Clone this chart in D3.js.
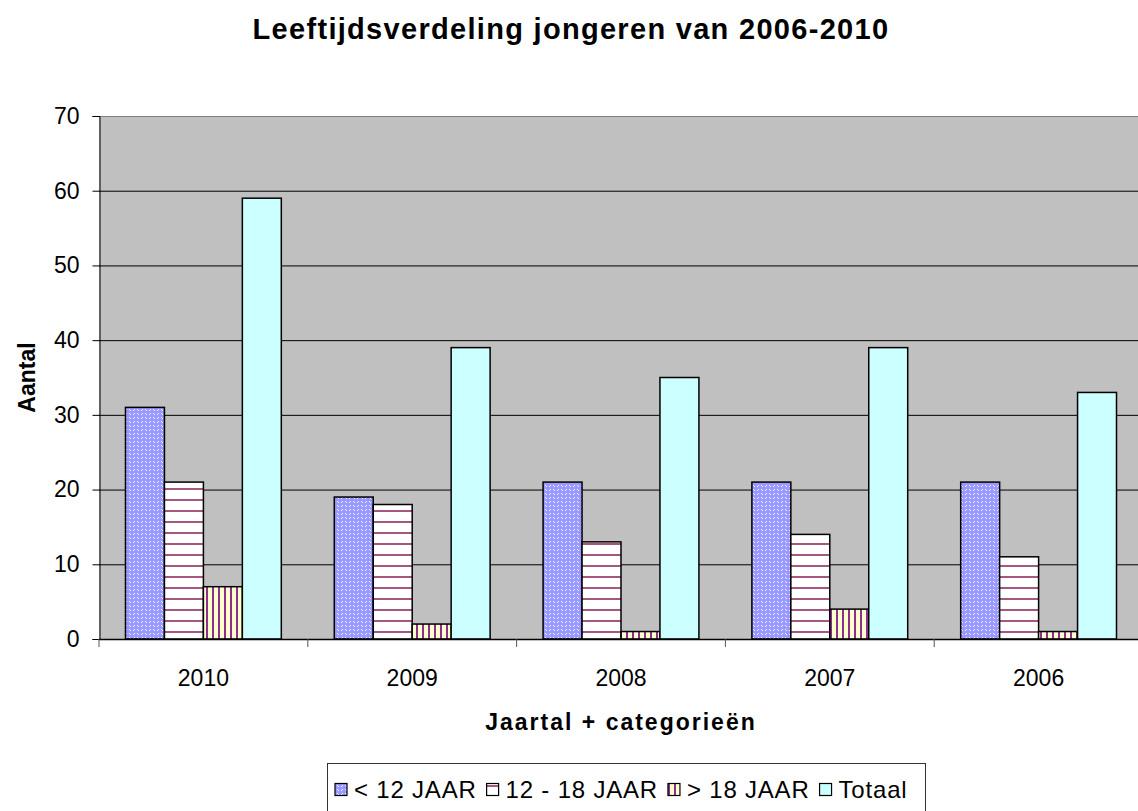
<!DOCTYPE html>
<html>
<head>
<meta charset="utf-8">
<script src="https://cdn.jsdelivr.net/npm/d3@7"></script>
<style>
  body { margin: 0; background: #fff; }
  text { font-family: "Liberation Sans", Arial, sans-serif; }
</style>
</head>
<body>
<div id="chart"></div>
<script>
var width = 1138;
var height = 811;

// data
var years = ["2010", "2009", "2008", "2007", "2006"];
var series = ["< 12 JAAR", "12 - 18 JAAR", "> 18 JAAR", "Totaal"];
var under12 = [31, 19, 21, 21, 21];
var from12to18 = [21, 18, 13, 14, 11];
var over18 = [7, 2, 1, 4, 1];
var totaal = [59, 39, 35, 39, 33];
var yTicks = [0, 10, 20, 30, 40, 50, 60, 70];

var values = [under12, from12to18, over18, totaal];
var fills = ["url(#pUnder12)", "url(#p12to18)", "url(#pOver18)", "#CCFFFF"];

var plot = {left: 99, top: 116, right: 1143, bottom: 639};

var svg = d3.select("#chart").append("svg")
    .attr("width", width)
    .attr("height", height);

// patterns
var defs = svg.append("defs");
var p1 = defs.append("pattern").attr("id", "pUnder12")
    .attr("patternUnits", "userSpaceOnUse").attr("width", 8).attr("height", 8);
p1.append("rect").attr("width", 8).attr("height", 8).attr("fill", "#9999FF");
[[1,1],[2,2],[5,2],[6,1],[1,5],[2,6],[6,5],[5,6]].forEach(function(d) {
    p1.append("rect").attr("x", d[0]).attr("y", d[1]).attr("width", 1).attr("height", 1)
        .attr("fill", "#F0F0FF");
});
var p2 = defs.append("pattern").attr("id", "p12to18")
    .attr("patternUnits", "userSpaceOnUse").attr("width", 8).attr("height", 11);
p2.append("rect").attr("width", 8).attr("height", 11).attr("fill", "#FFFFFF");
p2.append("rect").attr("y", 4).attr("width", 8).attr("height", 2).attr("fill", "#A6567F");
var p3 = defs.append("pattern").attr("id", "pOver18")
    .attr("patternUnits", "userSpaceOnUse").attr("width", 6).attr("height", 8);
p3.append("rect").attr("width", 6).attr("height", 8).attr("fill", "#FFFFCC");
p3.append("rect").attr("x", 2).attr("width", 2).attr("height", 8).attr("fill", "#8E2E8E");

// scales
var xScale = d3.scaleBand()
    .domain(years)
    .range([plot.left, plot.right]);

var xInner = d3.scaleBand()
    .domain(series)
    .range([0, xScale.bandwidth()])
    .paddingOuter(0.68);

var yScale = d3.scaleLinear()
    .domain([0, 70])
    .range([plot.bottom, plot.top]);

// background
svg.append("rect")
    .attr("x", plot.left).attr("y", plot.top)
    .attr("width", plot.right - plot.left)
    .attr("height", plot.bottom - plot.top)
    .attr("fill", "#C0C0C0");

// gridlines
svg.append("g").selectAll("line")
    .data(yTicks.slice(1))
    .enter().append("line")
    .attr("x1", plot.left).attr("x2", plot.right)
    .attr("y1", function(d) { return yScale(d) + 0.5; })
    .attr("y2", function(d) { return yScale(d) + 0.5; })
    .attr("stroke", function(d) { return d == 70 ? "#808080" : "#000"; })
    .attr("stroke-width", 1);

// bars
series.forEach(function(s, si) {
    svg.append("g").selectAll("rect")
        .data(values[si])
        .enter().append("rect")
        .attr("x", function(d, i) { return xScale(years[i]) + xInner(s); })
        .attr("y", function(d) { return yScale(d); })
        .attr("width", xInner.bandwidth())
        .attr("height", function(d) { return plot.bottom - yScale(d); })
        .attr("fill", fills[si])
        .attr("stroke", "#000")
        .attr("stroke-width", 1.5);
});

// y axis
var yAxis = d3.axisLeft(yScale).tickValues(yTicks).tickSize(7).tickPadding(13);
var gy = svg.append("g")
    .attr("transform", "translate(" + (plot.left + 0.5) + ",0)")
    .call(yAxis);
gy.selectAll("text").attr("font-size", 23).attr("fill", "#000")
    .style("font-family", "Liberation Sans, Arial, sans-serif");
gy.select(".domain").attr("stroke", "#000");

// x axis
var xAxis = d3.axisBottom(xScale).tickSize(0).tickPadding(30);
var gx = svg.append("g")
    .attr("transform", "translate(0," + (plot.bottom + 0.5) + ")")
    .call(xAxis);
gx.select(".domain").remove();
gx.selectAll("text").attr("font-size", 23).attr("fill", "#000")
    .style("font-family", "Liberation Sans, Arial, sans-serif");
svg.append("line")
    .attr("x1", plot.left).attr("x2", plot.right)
    .attr("y1", plot.bottom + 0.5).attr("y2", plot.bottom + 0.5)
    .attr("stroke", "#000").attr("stroke-width", 1.5);
// category separator ticks
svg.append("g").selectAll("line")
    .data(years.concat(["end"]))
    .enter().append("line")
    .attr("x1", function(d) { return d == "end" ? plot.right : xScale(d); })
    .attr("x2", function(d) { return d == "end" ? plot.right : xScale(d); })
    .attr("y1", plot.bottom).attr("y2", plot.bottom + 8)
    .attr("stroke", "#555");

// title
svg.append("text")
    .attr("x", 571).attr("y", 39)
    .attr("text-anchor", "middle")
    .attr("font-size", 29).attr("font-weight", "bold")
    .attr("letter-spacing", 1.3)
    .text("Leeftijdsverdeling jongeren van 2006-2010");

svg.append("text")
    .attr("transform", "translate(35," + ((plot.top + plot.bottom) / 2) + ") rotate(-90)")
    .attr("text-anchor", "middle")
    .attr("font-size", 23).attr("font-weight", "bold")
    .text("Aantal");

svg.append("text")
    .attr("x", 621).attr("y", 730)
    .attr("text-anchor", "middle")
    .attr("font-size", 23).attr("font-weight", "bold")
    .attr("letter-spacing", 2)
    .text("Jaartal + categorieën");

// legend
var legend = svg.append("g");
legend.append("rect")
    .attr("x", 327.5).attr("y", 763.5)
    .attr("width", 598).attr("height", 60)
    .attr("fill", "#fff").attr("stroke", "#333");
var lx = 335;
series.forEach(function(s, si) {
    legend.append("rect")
        .attr("x", lx).attr("y", 783.5)
        .attr("width", 12).attr("height", 12)
        .attr("fill", fills[si]).attr("stroke", "#000").attr("stroke-width", 1.2);
    var t = legend.append("text")
        .attr("x", lx + 19).attr("y", 798)
        .attr("font-size", 24)
        .attr("letter-spacing", 0.8)
        .text(s);
    lx = lx + 19 + t.node().getComputedTextLength() + 10;
});
</script>
</body>
</html>
